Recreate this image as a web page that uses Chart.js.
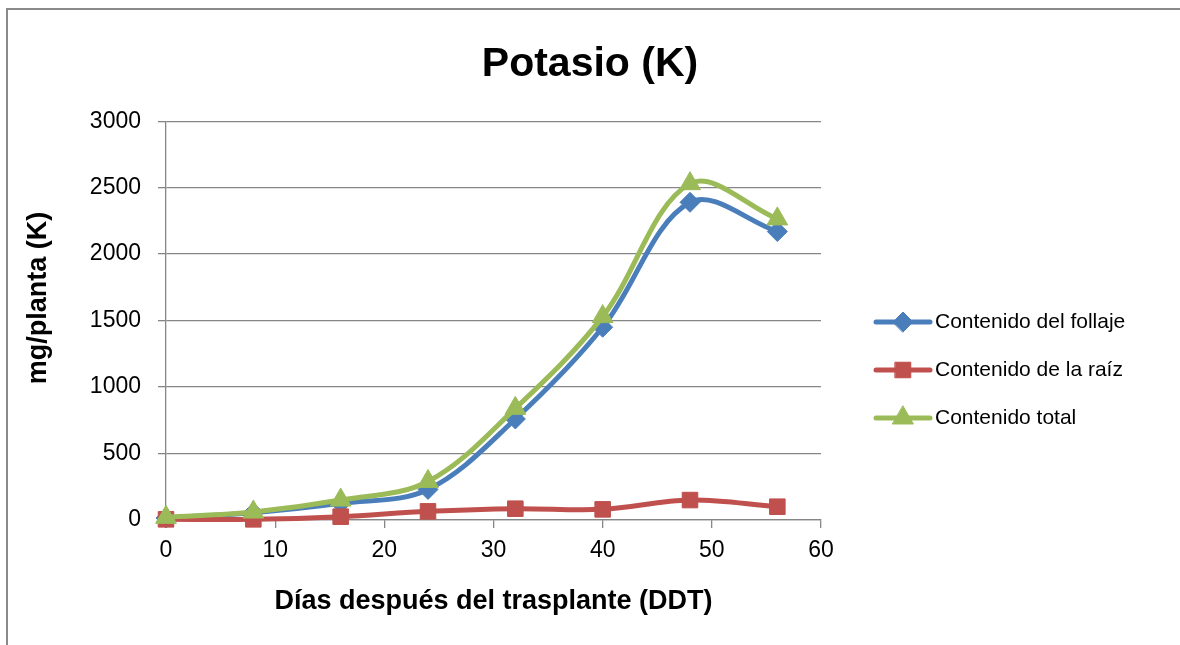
<!DOCTYPE html>
<html lang="es">
<head>
<meta charset="utf-8">
<title>Potasio (K)</title>
<script src="https://cdn.jsdelivr.net/npm/chart.js@4.4.1/dist/chart.umd.min.js"></script>
<style>
  html, body { margin: 0; padding: 0; background: #fff; overflow: hidden; }
  #frame {
    position: absolute; left: 6px; top: 8px; width: 1200px; height: 700px;
    border: 2px solid #8a8a8a; box-sizing: border-box;
  }
  #wrap { position: absolute; left: 0; top: 0; width: 1180px; height: 645px; }
</style>
</head>
<body>
<div id="frame"></div>
<div id="wrap"><canvas id="chart" width="1180" height="645"></canvas></div>
<script>
const days = [0, 8, 16, 24, 32, 40, 48, 56];
const follaje = [15, 55, 125, 230, 760, 1450, 2390, 2170];
const raiz = [5, 5, 25, 65, 85, 80, 150, 100];
const total = [20, 60, 150, 290, 840, 1530, 2530, 2265];
const xTicks = [0, 10, 20, 30, 40, 50, 60];
const yTicks = [0, 500, 1000, 1500, 2000, 2500, 3000];

const FONT = "'Liberation Sans', Arial, sans-serif";
const GRID = "#868686";

const pts = (ys) => days.map((d, i) => ({ x: d, y: ys[i] }));

// legend drawn on the right like the Excel one: short line with the marker on it
const sideLegend = {
  id: "sideLegend",
  afterDraw(chart, args, opts) {
    const ctx = chart.ctx;
    ctx.save();
    ctx.font = `21px ${FONT}`;
    ctx.textBaseline = "middle";
    chart.data.datasets.forEach((ds, i) => {
      const y = opts.top + i * opts.step;
      ctx.strokeStyle = ds.borderColor;
      ctx.lineWidth = ds.borderWidth;
      ctx.lineCap = "round";
      ctx.beginPath();
      ctx.moveTo(opts.x0, y);
      ctx.lineTo(opts.x1, y);
      ctx.stroke();
      ctx.fillStyle = ds.pointBackgroundColor;
      ctx.strokeStyle = ds.pointBorderColor;
      ctx.lineWidth = 1;
      Chart.helpers.drawPoint(ctx, {
        pointStyle: ds.pointStyle,
        radius: ds.pointRadius,
        borderWidth: 1,
        rotation: 0,
      }, (opts.x0 + opts.x1) / 2, y);
      ctx.fillStyle = "#000";
      ctx.fillText(ds.label, opts.x1 + 5, y);
    });
    ctx.restore();
  },
};

const line = (label, ys, color, style, r, order) => ({
  label,
  data: pts(ys),
  borderColor: color,
  backgroundColor: color,
  borderWidth: 5,
  pointStyle: style,
  pointRadius: r,
  pointBackgroundColor: color,
  pointBorderColor: color,
  pointBorderWidth: 1,
  tension: 0.35,
  clip: false,
  order,
});

new Chart(document.getElementById("chart"), {
  type: "line",
  data: {
    datasets: [
      line("Contenido del follaje", follaje, "#4A7EBB", "rectRot", 10, 2),
      line("Contenido de la raíz", raiz, "#C0504D", "rect", 11, 1),
      line("Contenido total", total, "#9BBB59", "triangle", 12, 0),
    ],
  },
  options: {
    responsive: false,
    animation: false,
    events: [],
    scales: {
      x: {
        type: "linear",
        min: 0,
        max: 60,
        afterBuildTicks: (s) => { s.ticks = xTicks.map((v) => ({ value: v })); },
        afterFit: (s) => { s.height = 125; },
        ticks: { color: "#000", font: { family: FONT, size: 23 }, padding: 9, maxRotation: 0, callback: (v) => String(v) },
        grid: { drawOnChartArea: false, color: GRID, tickLength: 8, lineWidth: 1.3 },
        border: { color: GRID, width: 1.3 },
        title: {
          display: true,
          text: "Días después del trasplante (DDT)",
          color: "#000",
          font: { family: FONT, size: 27, weight: "bold" },
          padding: { top: 0, bottom: 27 },
        },
      },
      y: {
        min: 0,
        max: 3000,
        afterBuildTicks: (s) => { s.ticks = yTicks.map((v) => ({ value: v })); },
        afterFit: (s) => { s.width = 166; },
        ticks: { color: "#000", font: { family: FONT, size: 23 }, padding: 17, callback: (v) => String(v) },
        grid: { color: GRID, tickLength: 8, lineWidth: 1.3 },
        border: { color: GRID, width: 1.3 },
        title: {
          display: true,
          text: "\u2007\u2007\u2007mg/planta (K)",
          color: "#000",
          font: { family: FONT, size: 27, weight: "bold" },
          padding: { top: 22, bottom: 0 },
        },
      },
      // empty right-hand box that keeps room for the legend
      room: {
        position: "right",
        min: 0,
        max: 1,
        afterFit: (s) => { s.width = 359; },
        ticks: { display: false },
        grid: { display: false },
        border: { display: false },
      },
    },
    plugins: {
      legend: { display: false },
      tooltip: { enabled: false },
      title: {
        display: true,
        text: "Potasio (K)",
        color: "#000",
        font: { family: FONT, size: 41, weight: "bold" },
        padding: { top: 40, bottom: 32 },
      },
      sideLegend: { x0: 876, x1: 930, top: 322, step: 48 },
    },
  },
  plugins: [sideLegend],
});
</script>
</body>
</html>
